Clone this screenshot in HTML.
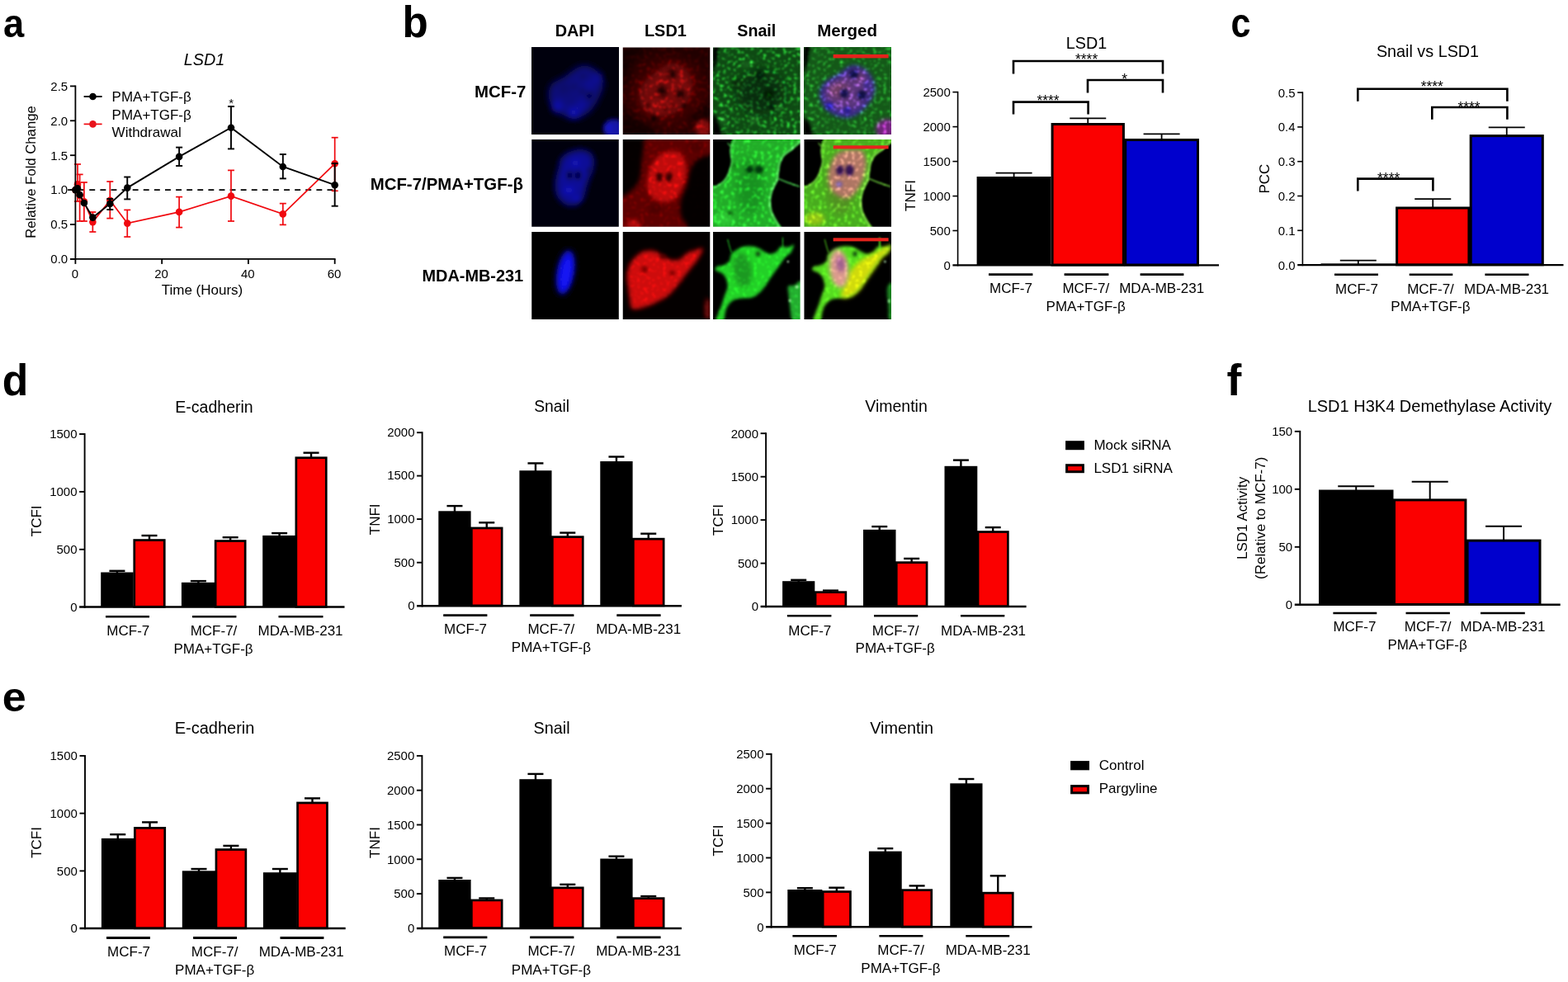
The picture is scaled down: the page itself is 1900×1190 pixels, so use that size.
<!DOCTYPE html>
<html lang="en"><head><meta charset="utf-8"><title>Figure</title>
<style>
html,body{margin:0;padding:0;background:#fff;}
body{width:1900px;height:1190px;overflow:hidden;}
svg{display:block;}
svg text{font-family:"Liberation Sans", sans-serif;fill:#000;}
</style></head>
<body>
<svg width="1900" height="1190" viewBox="0 0 1900 1190">
<rect width="1900" height="1190" fill="#fff"/>
<text transform="translate(3.94 45.2) scale(0.958 1)" font-size="47.3" font-weight="bold">a</text>
<text transform="translate(487.58 45.2) scale(0.963 1)" font-size="53.1" font-weight="bold">b</text>
<text transform="translate(1491.38 44.9) scale(0.878 1)" font-size="49.1" font-weight="bold">c</text>
<text transform="translate(2.83 478.7) scale(0.979 1)" font-size="52.8" font-weight="bold">d</text>
<text transform="translate(2.82 861.7) scale(1.053 1)" font-size="49.5" font-weight="bold">e</text>
<text transform="translate(1486.6 478.6) scale(1.009 1)" font-size="53.0" font-weight="bold">f</text>
<line x1="82.1" y1="230.09999999999997" x2="405.68000000000006" y2="230.09999999999997" stroke="#000" stroke-width="1.7" stroke-dasharray="6.9 6.2"/>
<line x1="94.019" y1="199" x2="94.019" y2="244" stroke="#f0080e" stroke-width="1.7"/>
<line x1="90.019" y1="199" x2="98.019" y2="199" stroke="#f0080e" stroke-width="1.7"/>
<line x1="90.019" y1="244" x2="98.019" y2="244" stroke="#f0080e" stroke-width="1.7"/>
<line x1="96.638" y1="211.4" x2="96.638" y2="268" stroke="#f0080e" stroke-width="1.7"/>
<line x1="92.638" y1="211.4" x2="100.638" y2="211.4" stroke="#f0080e" stroke-width="1.7"/>
<line x1="92.638" y1="268" x2="100.638" y2="268" stroke="#f0080e" stroke-width="1.7"/>
<line x1="101.876" y1="221" x2="101.876" y2="268" stroke="#f0080e" stroke-width="1.7"/>
<line x1="97.876" y1="221" x2="105.876" y2="221" stroke="#f0080e" stroke-width="1.7"/>
<line x1="97.876" y1="268" x2="105.876" y2="268" stroke="#f0080e" stroke-width="1.7"/>
<line x1="112.352" y1="257" x2="112.352" y2="281" stroke="#f0080e" stroke-width="1.7"/>
<line x1="108.352" y1="257" x2="116.352" y2="257" stroke="#f0080e" stroke-width="1.7"/>
<line x1="108.352" y1="281" x2="116.352" y2="281" stroke="#f0080e" stroke-width="1.7"/>
<line x1="133.304" y1="220" x2="133.304" y2="264.6" stroke="#f0080e" stroke-width="1.7"/>
<line x1="129.304" y1="220" x2="137.304" y2="220" stroke="#f0080e" stroke-width="1.7"/>
<line x1="129.304" y1="264.6" x2="137.304" y2="264.6" stroke="#f0080e" stroke-width="1.7"/>
<line x1="154.25600000000003" y1="254.4" x2="154.25600000000003" y2="287" stroke="#f0080e" stroke-width="1.7"/>
<line x1="150.25600000000003" y1="254.4" x2="158.25600000000003" y2="254.4" stroke="#f0080e" stroke-width="1.7"/>
<line x1="150.25600000000003" y1="287" x2="158.25600000000003" y2="287" stroke="#f0080e" stroke-width="1.7"/>
<line x1="217.11200000000002" y1="238.6" x2="217.11200000000002" y2="275.6" stroke="#f0080e" stroke-width="1.7"/>
<line x1="213.11200000000002" y1="238.6" x2="221.11200000000002" y2="238.6" stroke="#f0080e" stroke-width="1.7"/>
<line x1="213.11200000000002" y1="275.6" x2="221.11200000000002" y2="275.6" stroke="#f0080e" stroke-width="1.7"/>
<line x1="279.968" y1="206.4" x2="279.968" y2="268" stroke="#f0080e" stroke-width="1.7"/>
<line x1="275.968" y1="206.4" x2="283.968" y2="206.4" stroke="#f0080e" stroke-width="1.7"/>
<line x1="275.968" y1="268" x2="283.968" y2="268" stroke="#f0080e" stroke-width="1.7"/>
<line x1="342.82400000000007" y1="246.6" x2="342.82400000000007" y2="272.4" stroke="#f0080e" stroke-width="1.7"/>
<line x1="338.82400000000007" y1="246.6" x2="346.82400000000007" y2="246.6" stroke="#f0080e" stroke-width="1.7"/>
<line x1="338.82400000000007" y1="272.4" x2="346.82400000000007" y2="272.4" stroke="#f0080e" stroke-width="1.7"/>
<line x1="405.68000000000006" y1="166.7" x2="405.68000000000006" y2="231.3" stroke="#f0080e" stroke-width="1.7"/>
<line x1="401.68000000000006" y1="166.7" x2="409.68000000000006" y2="166.7" stroke="#f0080e" stroke-width="1.7"/>
<line x1="401.68000000000006" y1="231.3" x2="409.68000000000006" y2="231.3" stroke="#f0080e" stroke-width="1.7"/>
<polyline points="91.4,230.1 94.0,223.4 96.6,236.8 101.9,244.3 112.4,269.1 133.3,242.7 154.3,270.6 217.1,256.9 280.0,237.6 342.8,259.4 405.7,198.3" fill="none" stroke="#f0080e" stroke-width="1.7"/>
<circle cx="91.4" cy="230.1" r="4.3" fill="#f0080e"/>
<circle cx="94.0" cy="223.4" r="4.3" fill="#f0080e"/>
<circle cx="96.6" cy="236.8" r="4.3" fill="#f0080e"/>
<circle cx="101.9" cy="244.3" r="4.3" fill="#f0080e"/>
<circle cx="112.4" cy="269.1" r="4.3" fill="#f0080e"/>
<circle cx="133.3" cy="242.7" r="4.3" fill="#f0080e"/>
<circle cx="154.3" cy="270.6" r="4.3" fill="#f0080e"/>
<circle cx="217.1" cy="256.9" r="4.3" fill="#f0080e"/>
<circle cx="280.0" cy="237.6" r="4.3" fill="#f0080e"/>
<circle cx="342.8" cy="259.4" r="4.3" fill="#f0080e"/>
<circle cx="405.7" cy="198.3" r="4.3" fill="#f0080e"/>
<line x1="133.304" y1="241" x2="133.304" y2="254" stroke="#000" stroke-width="1.9"/>
<line x1="129.304" y1="241" x2="137.304" y2="241" stroke="#000" stroke-width="1.9"/>
<line x1="129.304" y1="254" x2="137.304" y2="254" stroke="#000" stroke-width="1.9"/>
<line x1="154.25600000000003" y1="214.5" x2="154.25600000000003" y2="241.4" stroke="#000" stroke-width="1.9"/>
<line x1="150.25600000000003" y1="214.5" x2="158.25600000000003" y2="214.5" stroke="#000" stroke-width="1.9"/>
<line x1="150.25600000000003" y1="241.4" x2="158.25600000000003" y2="241.4" stroke="#000" stroke-width="1.9"/>
<line x1="217.11200000000002" y1="178.6" x2="217.11200000000002" y2="201" stroke="#000" stroke-width="1.9"/>
<line x1="213.11200000000002" y1="178.6" x2="221.11200000000002" y2="178.6" stroke="#000" stroke-width="1.9"/>
<line x1="213.11200000000002" y1="201" x2="221.11200000000002" y2="201" stroke="#000" stroke-width="1.9"/>
<line x1="279.968" y1="129" x2="279.968" y2="180.4" stroke="#000" stroke-width="1.9"/>
<line x1="275.968" y1="129" x2="283.968" y2="129" stroke="#000" stroke-width="1.9"/>
<line x1="275.968" y1="180.4" x2="283.968" y2="180.4" stroke="#000" stroke-width="1.9"/>
<line x1="342.82400000000007" y1="187" x2="342.82400000000007" y2="216.4" stroke="#000" stroke-width="1.9"/>
<line x1="338.82400000000007" y1="187" x2="346.82400000000007" y2="187" stroke="#000" stroke-width="1.9"/>
<line x1="338.82400000000007" y1="216.4" x2="346.82400000000007" y2="216.4" stroke="#000" stroke-width="1.9"/>
<line x1="405.68000000000006" y1="198" x2="405.68000000000006" y2="249.7" stroke="#000" stroke-width="1.9"/>
<line x1="401.68000000000006" y1="198" x2="409.68000000000006" y2="198" stroke="#000" stroke-width="1.9"/>
<line x1="401.68000000000006" y1="249.7" x2="409.68000000000006" y2="249.7" stroke="#000" stroke-width="1.9"/>
<polyline points="91.4,230.1 94.0,228.4 96.6,236.0 101.9,246.0 112.4,263.6 133.3,246.9 154.3,227.6 217.1,189.9 280.0,154.7 342.8,202.0 405.7,224.2" fill="none" stroke="#000" stroke-width="1.9"/>
<circle cx="91.4" cy="230.1" r="4.3" fill="#000"/>
<circle cx="94.0" cy="228.4" r="4.3" fill="#000"/>
<circle cx="96.6" cy="236.0" r="4.3" fill="#000"/>
<circle cx="101.9" cy="246.0" r="4.3" fill="#000"/>
<circle cx="112.4" cy="263.6" r="4.3" fill="#000"/>
<circle cx="133.3" cy="246.9" r="4.3" fill="#000"/>
<circle cx="154.3" cy="227.6" r="4.3" fill="#000"/>
<circle cx="217.1" cy="189.9" r="4.3" fill="#000"/>
<circle cx="280.0" cy="154.7" r="4.3" fill="#000"/>
<circle cx="342.8" cy="202.0" r="4.3" fill="#000"/>
<circle cx="405.7" cy="224.2" r="4.3" fill="#000"/>
<line x1="91.4" y1="103.49999999999997" x2="91.4" y2="314.79999999999995" stroke="#000" stroke-width="1.8"/>
<line x1="85.0" y1="313.9" x2="406.58000000000004" y2="313.9" stroke="#000" stroke-width="1.8"/>
<line x1="85.0" y1="313.9" x2="91.4" y2="313.9" stroke="#000" stroke-width="1.8"/>
<text x="82.2" y="319.2" font-size="15" text-anchor="end" font-weight="normal" font-style="normal">0.0</text>
<line x1="85.0" y1="272.0" x2="91.4" y2="272.0" stroke="#000" stroke-width="1.8"/>
<text x="82.2" y="277.3" font-size="15" text-anchor="end" font-weight="normal" font-style="normal">0.5</text>
<line x1="85.0" y1="230.09999999999997" x2="91.4" y2="230.09999999999997" stroke="#000" stroke-width="1.8"/>
<text x="82.2" y="235.39999999999998" font-size="15" text-anchor="end" font-weight="normal" font-style="normal">1.0</text>
<line x1="85.0" y1="188.2" x2="91.4" y2="188.2" stroke="#000" stroke-width="1.8"/>
<text x="82.2" y="193.5" font-size="15" text-anchor="end" font-weight="normal" font-style="normal">1.5</text>
<line x1="85.0" y1="146.29999999999998" x2="91.4" y2="146.29999999999998" stroke="#000" stroke-width="1.8"/>
<text x="82.2" y="151.6" font-size="15" text-anchor="end" font-weight="normal" font-style="normal">2.0</text>
<line x1="85.0" y1="104.39999999999998" x2="91.4" y2="104.39999999999998" stroke="#000" stroke-width="1.8"/>
<text x="82.2" y="109.69999999999997" font-size="15" text-anchor="end" font-weight="normal" font-style="normal">2.5</text>
<line x1="91.4" y1="313.9" x2="91.4" y2="319.9" stroke="#000" stroke-width="1.8"/>
<text x="90.80000000000001" y="336.8" font-size="15" text-anchor="middle" font-weight="normal" font-style="normal">0</text>
<line x1="196.16000000000003" y1="313.9" x2="196.16000000000003" y2="319.9" stroke="#000" stroke-width="1.8"/>
<text x="195.56000000000003" y="336.8" font-size="15" text-anchor="middle" font-weight="normal" font-style="normal">20</text>
<line x1="300.92" y1="313.9" x2="300.92" y2="319.9" stroke="#000" stroke-width="1.8"/>
<text x="300.32" y="336.8" font-size="15" text-anchor="middle" font-weight="normal" font-style="normal">40</text>
<line x1="405.68000000000006" y1="313.9" x2="405.68000000000006" y2="319.9" stroke="#000" stroke-width="1.8"/>
<text x="405.08000000000004" y="336.8" font-size="15" text-anchor="middle" font-weight="normal" font-style="normal">60</text>
<text x="245" y="357.2" font-size="17.0" text-anchor="middle" font-weight="normal" font-style="normal">Time (Hours)</text>
<text x="43.0" y="208.5" font-size="16.7" text-anchor="middle" font-weight="normal" font-style="normal" transform="rotate(-90 43.0 208.5)">Relative Fold Change</text>
<text x="247.5" y="79" font-size="19.8" text-anchor="middle" font-weight="normal" font-style="italic">LSD1</text>
<line x1="101.6" y1="117" x2="123.6" y2="117" stroke="#000" stroke-width="1.9"/>
<circle cx="112.5" cy="117" r="4.3" fill="#000"/>
<line x1="101.6" y1="150.4" x2="123.6" y2="150.4" stroke="#f0080e" stroke-width="1.7"/>
<circle cx="112.5" cy="150.4" r="4.3" fill="#e8141c"/>
<text x="135.6" y="123" font-size="17.0" text-anchor="start" font-weight="normal" font-style="normal">PMA+TGF-β</text>
<text x="135.6" y="145.2" font-size="17.0" text-anchor="start" font-weight="normal" font-style="normal">PMA+TGF-β</text>
<text x="135.6" y="166" font-size="17.0" text-anchor="start" font-weight="normal" font-style="normal">Withdrawal</text>
<text x="280.1" y="130.2" font-size="15" text-anchor="middle" font-weight="normal" font-style="normal">*</text>
<text x="696.4" y="43.8" font-size="19.9" text-anchor="middle" font-weight="bold" font-style="normal">DAPI</text>
<text x="806.4" y="43.8" font-size="19.9" text-anchor="middle" font-weight="bold" font-style="normal">LSD1</text>
<text x="916.8" y="43.8" font-size="19.7" text-anchor="middle" font-weight="bold" font-style="normal">Snail</text>
<text x="1026.6" y="43.8" font-size="20.5" text-anchor="middle" font-weight="bold" font-style="normal">Merged</text>
<text x="637.3" y="117.9" font-size="20.4" text-anchor="end" font-weight="bold" font-style="normal">MCF-7</text>
<text x="633.9" y="230.0" font-size="20.4" text-anchor="end" font-weight="bold" font-style="normal">MCF-7/PMA+TGF-β</text>
<text x="634.2" y="340.8" font-size="19.9" text-anchor="end" font-weight="bold" font-style="normal">MDA-MB-231</text>
<defs>
<filter id="b4" x="-50%" y="-50%" width="200%" height="200%"><feGaussianBlur stdDeviation="4"/></filter>
<filter id="b8" x="-50%" y="-50%" width="200%" height="200%"><feGaussianBlur stdDeviation="8"/></filter>
<filter id="b12" x="-50%" y="-50%" width="200%" height="200%"><feGaussianBlur stdDeviation="12"/></filter>
<filter id="b20" x="-50%" y="-50%" width="200%" height="200%"><feGaussianBlur stdDeviation="20"/></filter>
<filter id="b30" x="-50%" y="-50%" width="200%" height="200%"><feGaussianBlur stdDeviation="30"/></filter>
<filter id="b45" x="-50%" y="-50%" width="200%" height="200%"><feGaussianBlur stdDeviation="45"/></filter>
<filter id="b70" x="-50%" y="-50%" width="200%" height="200%"><feGaussianBlur stdDeviation="70"/></filter>
<filter id="nR1" x="0" y="0" width="100%" height="100%" color-interpolation-filters="sRGB"><feTurbulence type="fractalNoise" baseFrequency="0.018" numOctaves="2" seed="5" result="n"/><feColorMatrix in="n" type="matrix" values="3.5 0 0 0 -1.8  3.5 0 0 0 -1.8  3.5 0 0 0 -1.8  0 0 0 0 1" result="g"/><feComposite in="SourceGraphic" in2="g" operator="arithmetic" k1="0.8" k2="0.78" k3="0" k4="0" result="c"/><feGaussianBlur in="c" stdDeviation="10"/></filter>
<filter id="nG1" x="0" y="0" width="100%" height="100%" color-interpolation-filters="sRGB"><feTurbulence type="fractalNoise" baseFrequency="0.022" numOctaves="2" seed="11" result="n"/><feColorMatrix in="n" type="matrix" values="4.0 0 0 0 -2.2  4.0 0 0 0 -2.2  4.0 0 0 0 -2.2  0 0 0 0 1" result="g"/><feComposite in="SourceGraphic" in2="g" operator="arithmetic" k1="1.7" k2="0.6" k3="0" k4="0" result="c"/><feGaussianBlur in="c" stdDeviation="10"/></filter>
<filter id="nM1" x="0" y="0" width="100%" height="100%" color-interpolation-filters="sRGB"><feTurbulence type="fractalNoise" baseFrequency="0.022" numOctaves="2" seed="11" result="n"/><feColorMatrix in="n" type="matrix" values="4.0 0 0 0 -2.2  4.0 0 0 0 -2.2  4.0 0 0 0 -2.2  0 0 0 0 1" result="g"/><feComposite in="SourceGraphic" in2="g" operator="arithmetic" k1="1.2" k2="0.72" k3="0" k4="0" result="c"/><feGaussianBlur in="c" stdDeviation="10"/></filter>
<filter id="nR2" x="0" y="0" width="100%" height="100%" color-interpolation-filters="sRGB"><feTurbulence type="fractalNoise" baseFrequency="0.02" numOctaves="2" seed="8" result="n"/><feColorMatrix in="n" type="matrix" values="3.5 0 0 0 -1.9  3.5 0 0 0 -1.9  3.5 0 0 0 -1.9  0 0 0 0 1" result="g"/><feComposite in="SourceGraphic" in2="g" operator="arithmetic" k1="0.5" k2="0.86" k3="0" k4="0" result="c"/><feGaussianBlur in="c" stdDeviation="10"/></filter>
<filter id="nG2" x="0" y="0" width="100%" height="100%" color-interpolation-filters="sRGB"><feTurbulence type="fractalNoise" baseFrequency="0.02" numOctaves="2" seed="17" result="n"/><feColorMatrix in="n" type="matrix" values="3.5 0 0 0 -1.9  3.5 0 0 0 -1.9  3.5 0 0 0 -1.9  0 0 0 0 1" result="g"/><feComposite in="SourceGraphic" in2="g" operator="arithmetic" k1="0.7" k2="0.8" k3="0" k4="0" result="c"/><feGaussianBlur in="c" stdDeviation="10"/></filter>
<filter id="nS" x="0" y="0" width="100%" height="100%" color-interpolation-filters="sRGB"><feTurbulence type="fractalNoise" baseFrequency="0.02" numOctaves="2" seed="29" result="n"/><feColorMatrix in="n" type="matrix" values="3.5 0 0 0 -1.9  3.5 0 0 0 -1.9  3.5 0 0 0 -1.9  0 0 0 0 1" result="g"/><feComposite in="SourceGraphic" in2="g" operator="arithmetic" k1="0.3" k2="0.93" k3="0" k4="0" result="c"/><feGaussianBlur in="c" stdDeviation="10"/></filter>
<filter id="nB" x="0" y="0" width="100%" height="100%"><feGaussianBlur stdDeviation="10"/></filter>
</defs>
<svg x="644.25" y="57.5" width="105.55" height="105.45" viewBox="2.8 5.6 1184.9 1183.8" preserveAspectRatio="none"><g filter="url(#nB)"><rect x="-50" y="-50" width="1300" height="1300" fill="#02000c"/><path d="M750 250 C785 256 828 277 860 300 C892 323 920 355 940 390 C960 425 980 468 980 510 C980 552 957 598 940 640 C923 682 903 722 880 760 C857 798 830 840 800 870 C770 900 733 923 700 940 C667 957 637 968 600 970 C563 972 517 962 480 950 C443 938 412 922 380 900 C348 878 313 850 290 820 C267 790 250 753 240 720 C230 687 227 652 230 620 C233 588 245 555 260 530 C275 505 290 490 320 470 C350 450 400 435 440 410 C480 385 525 344 560 320 C595 296 618 277 650 265 C682 253 715 244 750 250 Z" fill="#0b0b7c" filter="url(#b45)"/><ellipse cx="350" cy="810" rx="70" ry="75" fill="#1818d0" filter="url(#b45)" opacity="0.75"/><ellipse cx="575" cy="890" rx="80" ry="75" fill="#1818d0" filter="url(#b45)" opacity="0.75"/><ellipse cx="680" cy="790" rx="55" ry="70" fill="#1616c0" filter="url(#b45)" opacity="0.6"/><ellipse cx="900" cy="420" rx="55" ry="70" fill="#1515b8" filter="url(#b45)" opacity="0.7"/><ellipse cx="790" cy="510" rx="60" ry="45" fill="#1515b8" filter="url(#b45)" opacity="0.6"/><ellipse cx="440" cy="560" rx="90" ry="70" fill="#07075a" filter="url(#b45)" opacity="0.6"/><ellipse cx="790" cy="665" rx="44" ry="44" fill="#04043c" filter="url(#b30)" opacity="0.8"/><ellipse cx="690" cy="600" rx="30" ry="30" fill="#050548" filter="url(#b30)" opacity="0.6"/><ellipse cx="580" cy="540" rx="32" ry="32" fill="#060658" filter="url(#b30)" opacity="0.6"/><ellipse cx="700" cy="400" rx="34" ry="34" fill="#060658" filter="url(#b30)" opacity="0.6"/><ellipse cx="1120" cy="1110" rx="140" ry="130" fill="#1212a8" filter="url(#b30)"/><ellipse cx="1050" cy="1100" rx="50" ry="60" fill="#1818d0" filter="url(#b30)" opacity="0.7"/></g></svg>
<svg x="754.75" y="57.5" width="105.55" height="105.45" viewBox="8.4 5.6 1184.9 1183.8" preserveAspectRatio="none"><g filter="url(#nR1)"><rect x="-50" y="-50" width="1300" height="1300" fill="#2a0000"/><ellipse cx="620" cy="640" rx="560" ry="520" fill="#450303" filter="url(#b70)"/><path d="M650 225 C703 212 748 231 790 250 C832 269 872 298 900 340 C928 382 950 448 955 500 C960 552 946 603 930 650 C914 697 892 742 860 780 C828 818 790 852 740 880 C690 908 617 939 560 945 C503 951 447 934 400 915 C353 896 308 866 280 830 C252 794 240 745 235 700 C230 655 234 603 250 560 C266 517 293 478 330 440 C367 402 417 366 470 330 C523 294 597 238 650 225 Z" fill="#900a0a" filter="url(#b45)"/><ellipse cx="520" cy="800" rx="150" ry="110" fill="#a80e0e" filter="url(#b45)" opacity="0.6"/><ellipse cx="760" cy="470" rx="120" ry="120" fill="#9c0c0c" filter="url(#b45)" opacity="0.5"/><ellipse cx="680" cy="365" rx="60" ry="58" fill="#1c0000" filter="url(#b30)"/><ellipse cx="540" cy="600" rx="58" ry="76" fill="#1c0000" filter="url(#b30)" transform="rotate(-20 540 600)"/><ellipse cx="792" cy="645" rx="62" ry="58" fill="#1c0000" filter="url(#b30)"/><ellipse cx="350" cy="790" rx="26" ry="26" fill="#4a0000" filter="url(#b20)"/><ellipse cx="590" cy="845" rx="26" ry="26" fill="#4a0000" filter="url(#b20)"/><ellipse cx="690" cy="800" rx="22" ry="22" fill="#500000" filter="url(#b20)"/><ellipse cx="440" cy="975" rx="55" ry="40" fill="#140000" filter="url(#b20)"/><ellipse cx="850" cy="800" rx="40" ry="40" fill="#300000" filter="url(#b20)"/><path d="M900 1000 C868 983 952 940 1000 900 C1048 860 1158 743 1190 760 C1222 777 1238 960 1190 1000 C1142 1040 932 1017 900 1000 Z" fill="#1c0000" filter="url(#b30)"/><ellipse cx="1100" cy="1100" rx="110" ry="120" fill="#a40c0c" filter="url(#b30)"/><path d="M0 0 C50 -83 280 -25 300 0 C320 25 160 83 120 150 C80 217 80 342 60 400 C40 458 10 567 0 500 C-10 433 -50 83 0 0 Z" fill="#120000" filter="url(#b45)"/><path d="M0 900 C33 868 117 952 200 1000 C283 1048 533 1158 500 1190 C467 1222 83 1238 0 1190 C-83 1142 -33 932 0 900 Z" fill="#160000" filter="url(#b45)"/></g></svg>
<svg x="864.05" y="57.5" width="105.55" height="105.45" viewBox="0.6 5.6 1184.9 1183.8" preserveAspectRatio="none"><g filter="url(#nG1)"><rect x="-50" y="-50" width="1300" height="1300" fill="#187a20"/><ellipse cx="650" cy="620" rx="330" ry="300" fill="#0d4a12" filter="url(#b70)"/><ellipse cx="640" cy="380" rx="60" ry="60" fill="#062c08" filter="url(#b30)"/><ellipse cx="760" cy="640" rx="70" ry="60" fill="#052606" filter="url(#b30)"/><ellipse cx="800" cy="810" rx="40" ry="40" fill="#062c08" filter="url(#b20)"/><ellipse cx="320" cy="500" rx="60" ry="60" fill="#0a3a0c" filter="url(#b30)"/><ellipse cx="450" cy="240" rx="80" ry="40" fill="#2fae38" filter="url(#b30)" opacity="0.8"/><ellipse cx="560" cy="990" rx="70" ry="40" fill="#38c040" filter="url(#b30)" opacity="0.8"/><ellipse cx="140" cy="1000" rx="50" ry="40" fill="#38c040" filter="url(#b30)" opacity="0.8"/><ellipse cx="900" cy="830" rx="40" ry="40" fill="#38c040" filter="url(#b20)" opacity="0.8"/><path d="M0 0 C12 -55 60 -20 70 0 C80 20 66 77 60 120 C54 163 45 225 35 260 C25 295 6 373 0 330 C-6 287 -12 55 0 0 Z" fill="#000" filter="url(#b20)"/><path d="M0 930 C7 892 27 938 40 960 C53 982 68 1022 80 1060 C92 1098 123 1168 110 1190 C97 1212 18 1233 0 1190 C-18 1147 -7 968 0 930 Z" fill="#000" filter="url(#b20)"/></g></svg>
<svg x="974.45" y="57.5" width="105.55" height="105.45" viewBox="5.1 5.6 1184.9 1183.8" preserveAspectRatio="none"><g filter="url(#nM1)"><rect x="-50" y="-50" width="1300" height="1300" fill="#1c7a22"/><path d="M680 250 C717 250 763 268 800 290 C837 312 873 340 900 380 C927 420 953 485 960 530 C967 575 952 615 940 650 C928 685 918 702 890 740 C862 778 812 845 770 880 C728 915 682 938 640 950 C598 962 563 963 520 955 C477 947 422 926 380 900 C338 874 297 843 270 800 C243 757 223 685 220 640 C217 595 232 562 250 530 C268 498 292 477 330 450 C368 423 438 397 480 370 C522 343 547 310 580 290 C613 270 643 250 680 250 Z" fill="#3a30c0" filter="url(#b30)"/><path d="M660 300 C712 285 753 310 790 330 C827 350 858 385 880 420 C902 455 920 495 920 540 C920 585 907 642 880 690 C853 738 807 795 760 830 C713 865 657 895 600 900 C543 905 470 883 420 860 C370 837 325 797 300 760 C275 723 265 680 270 640 C275 600 295 557 330 520 C365 483 425 457 480 420 C535 383 608 315 660 300 Z" fill="#7c48a8" filter="url(#b45)"/><ellipse cx="470" cy="580" rx="150" ry="110" fill="#b06078" filter="url(#b45)" opacity="0.6"/><ellipse cx="760" cy="400" rx="80" ry="60" fill="#a85888" filter="url(#b45)" opacity="0.6"/><ellipse cx="680" cy="370" rx="66" ry="64" fill="#16125c" filter="url(#b20)"/><ellipse cx="550" cy="630" rx="62" ry="66" fill="#1c1460" filter="url(#b20)"/><ellipse cx="792" cy="652" rx="68" ry="66" fill="#16125c" filter="url(#b20)"/><ellipse cx="350" cy="800" rx="50" ry="50" fill="#3028cc" filter="url(#b20)"/><ellipse cx="590" cy="860" rx="55" ry="45" fill="#3a2cc8" filter="url(#b20)"/><ellipse cx="850" cy="520" rx="40" ry="60" fill="#4a38c8" filter="url(#b20)" opacity="0.7"/><ellipse cx="1130" cy="1120" rx="150" ry="140" fill="#9a32a8" filter="url(#b30)"/><path d="M0 0 C13 -55 69 -20 80 0 C91 20 72 77 65 120 C58 163 51 225 40 260 C29 295 7 373 0 330 C-7 287 -13 55 0 0 Z" fill="#000" filter="url(#b20)"/><path d="M0 980 C8 948 35 983 50 1000 C65 1017 80 1048 90 1080 C100 1112 125 1172 110 1190 C95 1208 18 1225 0 1190 C-18 1155 -8 1012 0 980 Z" fill="#000" filter="url(#b20)"/></g><rect x="400" y="100" width="752" height="50" fill="#e6241e" filter="url(#b4)"/></svg>
<svg x="644.25" y="169.05" width="105.55" height="105.75" viewBox="2.8 0.6 1184.9 1187.2" preserveAspectRatio="none"><g filter="url(#nB)"><rect x="-50" y="-50" width="1300" height="1300" fill="#010008"/><path d="M400 260 C418 227 450 208 480 190 C510 172 543 158 580 150 C617 142 663 135 700 140 C737 145 775 158 800 180 C825 202 843 233 850 270 C857 307 850 358 840 400 C830 442 805 480 790 520 C775 560 763 595 750 640 C737 685 728 750 710 790 C692 830 668 862 640 880 C612 898 573 902 540 900 C507 898 472 892 440 870 C408 848 369 808 350 770 C331 732 328 682 325 640 C322 598 328 562 335 520 C342 478 359 433 370 390 C381 347 382 293 400 260 Z" fill="#101098" filter="url(#b45)"/><ellipse cx="510" cy="690" rx="70" ry="50" fill="#1818c4" filter="url(#b30)" opacity="0.7"/><ellipse cx="600" cy="320" rx="60" ry="50" fill="#1616bc" filter="url(#b30)" opacity="0.7"/><ellipse cx="620" cy="800" rx="60" ry="40" fill="#1616bc" filter="url(#b30)" opacity="0.6"/><ellipse cx="520" cy="490" rx="38" ry="54" fill="#030330" filter="url(#b30)" opacity="0.9"/><ellipse cx="632" cy="490" rx="42" ry="58" fill="#030330" filter="url(#b30)" opacity="0.9"/><ellipse cx="790" cy="420" rx="34" ry="34" fill="#06064a" filter="url(#b30)" opacity="0.7"/></g></svg>
<svg x="754.75" y="169.05" width="105.55" height="105.75" viewBox="8.4 0.6 1184.9 1187.2" preserveAspectRatio="none"><g filter="url(#nR2)"><rect x="-50" y="-50" width="1300" height="1300" fill="#050000"/><path d="M330 -30 C398 -55 552 -30 700 -30 C848 -30 1133 -65 1220 -30 C1307 5 1247 133 1220 180 C1193 227 1103 223 1060 250 C1017 277 985 303 960 340 C935 377 923 423 910 470 C897 517 895 572 880 620 C865 668 835 713 820 760 C805 807 793 853 790 900 C787 947 787 987 800 1040 C813 1093 937 1190 870 1220 C803 1250 550 1220 400 1220 C250 1220 42 1287 -30 1220 C-102 1153 -45 898 -30 820 C-15 742 23 782 60 750 C97 718 158 675 190 630 C222 585 238 535 250 480 C262 425 258 360 265 300 C272 240 279 175 290 120 C301 65 262 -5 330 -30 Z" fill="#6c0505" filter="url(#b30)"/><path d="M430 300 C452 267 472 242 500 220 C528 198 567 180 600 170 C633 160 668 157 700 160 C732 163 763 165 790 190 C817 215 847 265 860 310 C873 355 873 412 870 460 C867 508 855 557 840 600 C825 643 803 683 780 720 C757 757 730 798 700 820 C670 842 633 847 600 850 C567 853 533 852 500 840 C467 828 426 807 400 780 C374 753 355 717 345 680 C335 643 336 603 340 560 C344 517 355 463 370 420 C385 377 408 333 430 300 Z" fill="#dc1010" filter="url(#b30)"/><ellipse cx="505" cy="510" rx="46" ry="62" fill="#3c0000" filter="url(#b20)"/><ellipse cx="637" cy="510" rx="46" ry="66" fill="#3c0000" filter="url(#b20)"/><ellipse cx="150" cy="1150" rx="90" ry="60" fill="#d00c0c" filter="url(#b30)"/><ellipse cx="1000" cy="100" rx="110" ry="70" fill="#5a0404" filter="url(#b30)"/><ellipse cx="450" cy="950" rx="100" ry="60" fill="#500303" filter="url(#b30)" opacity="0.7"/></g></svg>
<svg x="864.05" y="169.05" width="105.55" height="105.75" viewBox="0.6 0.6 1184.9 1187.2" preserveAspectRatio="none"><g filter="url(#nG2)"><rect x="-50" y="-50" width="1300" height="1300" fill="#000"/><path d="M300 -30 C377 -58 547 -30 700 -30 C853 -30 1133 -40 1220 -30 C1307 -20 1245 3 1220 30 C1195 57 1113 99 1070 130 C1027 161 988 183 960 215 C932 247 918 282 905 320 C892 358 892 400 885 440 C878 480 878 520 865 560 C852 600 820 635 805 680 C790 725 774 780 772 830 C770 880 777 935 790 980 C803 1025 830 1060 850 1100 C870 1140 985 1200 910 1220 C835 1240 557 1220 400 1220 C243 1220 42 1310 -30 1220 C-102 1130 -45 778 -30 680 C-15 582 30 649 60 630 C90 611 124 595 150 565 C176 535 198 494 215 450 C232 406 251 352 255 300 C259 248 230 195 238 140 C246 85 223 -2 300 -30 Z" fill="#2ad632" filter="url(#b8)"/><ellipse cx="500" cy="640" rx="190" ry="380" fill="#1fae27" filter="url(#b45)" opacity="0.8"/><ellipse cx="150" cy="1080" rx="130" ry="90" fill="#3af842" filter="url(#b30)"/><path d="M1190 25 C1170 42 1108 98 1070 130 C1032 162 988 183 960 215 C932 247 918 282 905 320 C892 358 892 400 885 440 C878 480 878 520 865 560 C852 600 820 635 805 680 C790 725 774 780 772 830 C770 880 777 935 790 980 C803 1025 831 1065 850 1100 C869 1135 896 1175 905 1190" fill="none" stroke="#5cff64" stroke-width="34" stroke-linecap="round" filter="url(#b8)"/><path d="M300 0 C290 23 246 90 238 140 C230 190 259 248 255 300 C251 352 232 406 215 450 C198 494 176 535 150 565 C124 595 85 612 60 630 C35 648 10 663 0 670" fill="none" stroke="#5cff64" stroke-width="24" stroke-linecap="round" filter="url(#b8)" opacity="0.9"/><path d="M880 530 C900 538 952 562 1000 580 C1048 598 1142 630 1170 640" fill="none" stroke="#5cff64" stroke-width="20" stroke-linecap="round" filter="url(#b8)" opacity="0.85"/><path d="M200 50 C208 61 242 104 250 115" fill="none" stroke="#5cff64" stroke-width="14" stroke-linecap="round" filter="url(#b8)" opacity="0.8"/><ellipse cx="500" cy="410" rx="52" ry="52" fill="#063c08" filter="url(#b20)"/><ellipse cx="627" cy="410" rx="56" ry="56" fill="#063c08" filter="url(#b20)"/><ellipse cx="300" cy="370" rx="30" ry="30" fill="#0c6a10" filter="url(#b20)"/><ellipse cx="230" cy="1010" rx="36" ry="30" fill="#0c6a10" filter="url(#b20)"/></g></svg>
<svg x="974.45" y="169.05" width="105.55" height="105.75" viewBox="5.1 0.6 1184.9 1187.2" preserveAspectRatio="none"><g filter="url(#nG2)"><rect x="-50" y="-50" width="1300" height="1300" fill="#000"/><path d="M300 -30 C377 -58 547 -30 700 -30 C853 -30 1133 -40 1220 -30 C1307 -20 1245 3 1220 30 C1195 57 1113 99 1070 130 C1027 161 988 183 960 215 C932 247 918 282 905 320 C892 358 892 400 885 440 C878 480 878 520 865 560 C852 600 820 635 805 680 C790 725 774 780 772 830 C770 880 777 935 790 980 C803 1025 830 1060 850 1100 C870 1140 985 1200 910 1220 C835 1240 557 1220 400 1220 C243 1220 42 1310 -30 1220 C-102 1130 -45 778 -30 680 C-15 582 30 649 60 630 C90 611 124 595 150 565 C176 535 198 494 215 450 C232 406 251 352 255 300 C259 248 230 195 238 140 C246 85 223 -2 300 -30 Z" fill="#5ad626" filter="url(#b8)"/><ellipse cx="500" cy="640" rx="190" ry="380" fill="#66aa2a" filter="url(#b45)" opacity="0.8"/><ellipse cx="150" cy="1080" rx="130" ry="90" fill="#b4f41c" filter="url(#b30)"/><path d="M1190 25 C1170 42 1108 98 1070 130 C1032 162 988 183 960 215 C932 247 918 282 905 320 C892 358 892 400 885 440 C878 480 878 520 865 560 C852 600 820 635 805 680 C790 725 774 780 772 830 C770 880 777 935 790 980 C803 1025 831 1065 850 1100 C869 1135 896 1175 905 1190" fill="none" stroke="#88ff48" stroke-width="34" stroke-linecap="round" filter="url(#b8)"/><path d="M300 0 C290 23 246 90 238 140 C230 190 259 248 255 300 C251 352 232 406 215 450 C198 494 176 535 150 565 C124 595 85 612 60 630 C35 648 10 663 0 670" fill="none" stroke="#88ff48" stroke-width="24" stroke-linecap="round" filter="url(#b8)" opacity="0.9"/><path d="M880 530 C900 538 952 562 1000 580 C1048 598 1142 630 1170 640" fill="none" stroke="#88ff48" stroke-width="20" stroke-linecap="round" filter="url(#b8)" opacity="0.85"/><path d="M200 50 C208 61 242 104 250 115" fill="none" stroke="#88ff48" stroke-width="14" stroke-linecap="round" filter="url(#b8)" opacity="0.8"/><path d="M430 210 C458 173 488 172 520 160 C552 148 583 143 620 140 C657 137 708 135 740 140 C772 145 792 143 810 170 C828 197 846 255 850 300 C854 345 843 397 835 440 C827 483 815 522 800 560 C785 598 772 633 745 670 C718 707 674 758 640 780 C606 802 573 805 540 800 C507 795 470 773 440 750 C410 727 378 698 360 660 C342 622 332 567 330 520 C328 473 333 432 350 380 C367 328 402 247 430 210 Z" fill="#d8927c" filter="url(#b30)"/><ellipse cx="492" cy="420" rx="52" ry="68" fill="#3a1260" filter="url(#b20)"/><ellipse cx="622" cy="420" rx="58" ry="78" fill="#3a1260" filter="url(#b20)"/><ellipse cx="480" cy="610" rx="45" ry="40" fill="#9878c8" filter="url(#b20)"/></g><rect x="400" y="82" width="752" height="46" fill="#e6241e" filter="url(#b4)"/></svg>
<svg x="644.25" y="281.05" width="105.55" height="105.9" viewBox="2.8 0.6 1184.9 1188.9" preserveAspectRatio="none"><g filter="url(#nB)"><rect x="-50" y="-50" width="1300" height="1300" fill="#000006"/><ellipse cx="462" cy="550" rx="118" ry="300" fill="#0c0ccc" filter="url(#b30)" transform="rotate(10 462 550)"/><ellipse cx="470" cy="560" rx="70" ry="220" fill="#1212f4" filter="url(#b30)" transform="rotate(10 470 560)"/></g></svg>
<svg x="754.75" y="281.05" width="105.55" height="105.9" viewBox="8.4 0.6 1184.9 1188.9" preserveAspectRatio="none"><g filter="url(#nS)"><rect x="-50" y="-50" width="1300" height="1300" fill="#040000"/><path d="M170 350 C202 320 248 283 290 268 C332 253 383 253 420 258 C457 263 482 285 510 300 C538 315 560 336 590 350 C620 364 657 382 690 385 C723 388 758 386 790 370 C822 354 847 310 880 290 C913 270 954 260 990 250 C1026 240 1088 208 1095 228 C1102 248 1059 323 1030 370 C1001 417 957 463 920 510 C883 557 845 605 810 650 C775 695 745 741 710 780 C675 819 643 854 600 885 C557 916 503 941 450 965 C397 989 332 1017 280 1030 C228 1043 165 1067 135 1045 C105 1023 109 949 100 900 C91 851 86 800 80 750 C74 700 59 650 62 600 C65 550 82 492 100 450 C118 408 138 380 170 350 Z" fill="#dc1010" filter="url(#b30)"/><ellipse cx="300" cy="510" rx="45" ry="45" fill="#8a0404" filter="url(#b20)"/><ellipse cx="555" cy="335" rx="45" ry="30" fill="#5a0000" filter="url(#b20)"/><ellipse cx="680" cy="560" rx="40" ry="34" fill="#900606" filter="url(#b20)"/><ellipse cx="1160" cy="1050" rx="40" ry="150" fill="#800808" filter="url(#b30)"/></g></svg>
<svg x="864.05" y="281.05" width="105.55" height="105.9" viewBox="0.6 0.6 1184.9 1188.9" preserveAspectRatio="none"><g filter="url(#nS)"><rect x="-50" y="-50" width="1300" height="1300" fill="#000"/><path d="M260 290 C286 269 350 220 400 205 C450 190 513 191 560 200 C607 209 645 241 680 258 C715 275 740 298 770 300 C800 302 834 289 860 272 C886 255 902 210 925 200 C948 190 978 211 1000 210 C1022 209 1043 201 1060 195 C1077 189 1100 158 1100 172 C1100 186 1080 251 1060 280 C1040 309 1007 315 980 345 C953 375 930 418 900 460 C870 502 830 557 800 600 C770 643 747 683 720 720 C693 757 670 792 640 820 C610 848 580 876 540 890 C500 904 443 899 400 905 C357 911 313 908 280 925 C247 942 219 976 200 1005 C181 1034 175 1064 165 1100 C155 1136 161 1200 140 1220 C119 1240 51 1240 40 1220 C29 1200 62 1137 75 1100 C88 1063 101 1040 115 1000 C129 960 146 903 160 860 C174 817 196 779 198 740 C200 701 185 655 172 625 C159 595 143 580 120 562 C97 544 43 535 32 520 C21 505 35 483 55 472 C75 461 122 464 150 452 C178 440 205 422 220 402 C235 382 235 349 242 330 C249 311 234 311 260 290 Z" fill="#26e02c" filter="url(#b20)"/><path d="M945 85 C946 106 948 189 948 210" fill="none" stroke="#26e02c" stroke-width="24" stroke-linecap="round" filter="url(#b8)"/><path d="M200 105 C204 119 214 162 222 190 C230 218 244 261 248 275" fill="none" stroke="#26e02c" stroke-width="14" stroke-linecap="round" filter="url(#b8)" opacity="0.8"/><ellipse cx="612" cy="300" rx="30" ry="32" fill="#08400a" filter="url(#b20)"/><ellipse cx="1020" cy="405" rx="13" ry="15" fill="#c8ffc8" filter="url(#b8)"/><ellipse cx="400" cy="520" rx="125" ry="235" fill="#1a9a20" filter="url(#b30)" transform="rotate(-8 400 520)" opacity="0.85"/><path d="M1020 745 C1031 717 1067 738 1100 730 C1133 722 1200 618 1220 700 C1240 782 1242 1133 1220 1220 C1198 1307 1113 1248 1085 1220 C1057 1192 1058 1103 1050 1050 C1042 997 1040 951 1035 900 C1030 849 1009 773 1020 745 Z" fill="#28b830" filter="url(#b20)"/><ellipse cx="1140" cy="750" rx="22" ry="22" fill="#a0ffa0" filter="url(#b8)"/><ellipse cx="1045" cy="935" rx="16" ry="22" fill="#a0ffa0" filter="url(#b8)"/></g></svg>
<svg x="974.45" y="281.05" width="105.55" height="105.9" viewBox="5.1 0.6 1184.9 1188.9" preserveAspectRatio="none"><g filter="url(#nS)"><rect x="-50" y="-50" width="1300" height="1300" fill="#000"/><path d="M345 290 C371 269 435 220 485 205 C535 190 598 191 645 200 C692 209 730 241 765 258 C800 275 825 298 855 300 C885 302 919 289 945 272 C971 255 987 210 1010 200 C1033 190 1062 211 1085 210 C1108 209 1128 201 1145 195 C1162 189 1185 158 1185 172 C1185 186 1165 251 1145 280 C1125 309 1092 315 1065 345 C1038 375 1015 418 985 460 C955 502 915 557 885 600 C855 643 832 683 805 720 C778 757 755 792 725 820 C695 848 665 876 625 890 C585 904 528 899 485 905 C442 911 398 908 365 925 C332 942 304 976 285 1005 C266 1034 260 1064 250 1100 C240 1136 246 1200 225 1220 C204 1240 136 1240 125 1220 C114 1200 148 1137 160 1100 C172 1063 186 1040 200 1000 C214 960 231 903 245 860 C259 817 281 779 283 740 C285 701 270 655 257 625 C244 595 228 580 205 562 C182 544 128 535 117 520 C106 505 120 483 140 472 C160 461 208 464 235 452 C262 440 290 422 305 402 C320 382 320 349 327 330 C334 311 319 311 345 290 Z" fill="#5cec20" filter="url(#b20)"/><path d="M645 520 C682 467 735 417 785 380 C835 343 895 327 945 300 C995 273 1045 238 1085 220 C1125 202 1175 180 1185 190 C1195 200 1165 254 1145 280 C1125 306 1092 315 1065 345 C1038 375 1015 418 985 460 C955 502 915 557 885 600 C855 643 832 683 805 720 C778 757 755 793 725 820 C695 847 662 870 625 880 C588 890 515 910 505 880 C495 850 542 760 565 700 C588 640 608 573 645 520 Z" fill="#e0ea08" filter="url(#b30)"/><path d="M1030 85 C1030 106 1032 189 1033 210" fill="none" stroke="#5cec20" stroke-width="24" stroke-linecap="round" filter="url(#b8)"/><path d="M285 105 C289 119 299 162 307 190 C315 218 329 261 333 275" fill="none" stroke="#5cec20" stroke-width="14" stroke-linecap="round" filter="url(#b8)" opacity="0.8"/><ellipse cx="697" cy="300" rx="30" ry="32" fill="#08400a" filter="url(#b20)"/><ellipse cx="1105" cy="405" rx="13" ry="15" fill="#c8ffc8" filter="url(#b8)"/><ellipse cx="478" cy="500" rx="128" ry="262" fill="#eca898" filter="url(#b30)" transform="rotate(-6 478 500)"/><ellipse cx="500" cy="440" rx="60" ry="110" fill="#a86498" filter="url(#b30)" transform="rotate(-6 500 440)"/><path d="M1135 760 C1147 713 1206 643 1220 720 C1234 797 1230 1137 1220 1220 C1210 1303 1172 1257 1160 1220 C1148 1183 1154 1077 1150 1000 C1146 923 1123 807 1135 760 Z" fill="#1c8c22" filter="url(#b20)"/><ellipse cx="1158" cy="940" rx="16" ry="28" fill="#90f090" filter="url(#b8)"/></g><rect x="400" y="82" width="752" height="46" fill="#e6241e" filter="url(#b4)"/></svg>
<line x1="1228.6" y1="209.6" x2="1228.6" y2="215" stroke="#000" stroke-width="1.8"/>
<line x1="1206.6" y1="209.6" x2="1250.6" y2="209.6" stroke="#000" stroke-width="1.8"/>
<rect x="1183.60" y="214.00" width="90.00" height="107.30" fill="#000"/>
<line x1="1318.25" y1="143.4" x2="1318.25" y2="150" stroke="#000" stroke-width="1.8"/>
<line x1="1296.25" y1="143.4" x2="1340.25" y2="143.4" stroke="#000" stroke-width="1.8"/>
<rect x="1275.10" y="150.50" width="86.30" height="170.50" fill="#fb0000" stroke="#000" stroke-width="3"/>
<line x1="1407.6" y1="162.4" x2="1407.6" y2="169" stroke="#000" stroke-width="1.8"/>
<line x1="1385.6" y1="162.4" x2="1429.6" y2="162.4" stroke="#000" stroke-width="1.8"/>
<rect x="1363.70" y="169.50" width="87.80" height="151.50" fill="#0000cd" stroke="#000" stroke-width="3"/>
<line x1="1160.6" y1="110.8" x2="1160.6" y2="322.45" stroke="#000" stroke-width="1.6"/>
<line x1="1154.3999999999999" y1="321.3" x2="1477" y2="321.3" stroke="#000" stroke-width="2.3"/>
<line x1="1154.3999999999999" y1="111.6" x2="1160.6" y2="111.6" stroke="#000" stroke-width="1.6"/>
<text x="1151.8" y="117.0" font-size="15" text-anchor="end" font-weight="normal" font-style="normal">2500</text>
<line x1="1154.3999999999999" y1="153.6" x2="1160.6" y2="153.6" stroke="#000" stroke-width="1.6"/>
<text x="1151.8" y="159.0" font-size="15" text-anchor="end" font-weight="normal" font-style="normal">2000</text>
<line x1="1154.3999999999999" y1="195.6" x2="1160.6" y2="195.6" stroke="#000" stroke-width="1.6"/>
<text x="1151.8" y="201.0" font-size="15" text-anchor="end" font-weight="normal" font-style="normal">1500</text>
<line x1="1154.3999999999999" y1="237.6" x2="1160.6" y2="237.6" stroke="#000" stroke-width="1.6"/>
<text x="1151.8" y="243.0" font-size="15" text-anchor="end" font-weight="normal" font-style="normal">1000</text>
<line x1="1154.3999999999999" y1="279.5" x2="1160.6" y2="279.5" stroke="#000" stroke-width="1.6"/>
<text x="1151.8" y="284.9" font-size="15" text-anchor="end" font-weight="normal" font-style="normal">500</text>
<text x="1151.8" y="326.7" font-size="15" text-anchor="end" font-weight="normal" font-style="normal">0</text>
<line x1="1198" y1="332.6" x2="1251.4" y2="332.6" stroke="#000" stroke-width="2.6"/>
<line x1="1289.6" y1="332.6" x2="1343.4" y2="332.6" stroke="#000" stroke-width="2.6"/>
<line x1="1381.6" y1="332.6" x2="1434.4" y2="332.6" stroke="#000" stroke-width="2.6"/>
<text x="1225.0" y="355" font-size="17.0" text-anchor="middle" font-weight="normal" font-style="normal">MCF-7</text>
<text x="1315.8" y="355" font-size="17.0" text-anchor="middle" font-weight="normal" font-style="normal">MCF-7/</text>
<text x="1315.7" y="377" font-size="17.0" text-anchor="middle" font-weight="normal" font-style="normal">PMA+TGF-β</text>
<text x="1407.7" y="355" font-size="17.0" text-anchor="middle" font-weight="normal" font-style="normal">MDA-MB-231</text>
<text x="1316.5" y="59" font-size="19.8" text-anchor="middle" font-weight="normal" font-style="normal">LSD1</text>
<text x="1108.7" y="237" font-size="17.0" text-anchor="middle" font-weight="normal" font-style="normal" transform="rotate(-90 1108.7 237)">TNFI</text>
<path d="M1228 89.6 V74 H1409 V89.6" fill="none" stroke="#000" stroke-width="2.6"/>
<text x="1316.6" y="78.4" font-size="17.5" text-anchor="middle" font-weight="normal" font-style="normal">****</text>
<path d="M1318 112.4 V97 H1409 V112.4" fill="none" stroke="#000" stroke-width="2.6"/>
<text x="1362.6" y="102.4" font-size="17.5" text-anchor="middle" font-weight="normal" font-style="normal">*</text>
<path d="M1228 138.6 V123.6 H1318.6 V138.6" fill="none" stroke="#000" stroke-width="2.6"/>
<text x="1270" y="127.8" font-size="17.5" text-anchor="middle" font-weight="normal" font-style="normal">****</text>
<line x1="1645.8" y1="315.7" x2="1645.8" y2="320.3" stroke="#000" stroke-width="1.8"/>
<line x1="1623.8" y1="315.7" x2="1667.8" y2="315.7" stroke="#000" stroke-width="1.8"/>
<rect x="1600.50" y="319.30" width="90.60" height="1.80" fill="#000"/>
<line x1="1736.25" y1="241.2" x2="1736.25" y2="251.5" stroke="#000" stroke-width="1.8"/>
<line x1="1714.25" y1="241.2" x2="1758.25" y2="241.2" stroke="#000" stroke-width="1.8"/>
<rect x="1692.60" y="252.00" width="87.30" height="68.80" fill="#fb0000" stroke="#000" stroke-width="3"/>
<line x1="1825.75" y1="154.3" x2="1825.75" y2="164.1" stroke="#000" stroke-width="1.8"/>
<line x1="1803.75" y1="154.3" x2="1847.75" y2="154.3" stroke="#000" stroke-width="1.8"/>
<rect x="1782.20" y="164.60" width="87.10" height="156.20" fill="#0000cd" stroke="#000" stroke-width="3"/>
<line x1="1578.4" y1="111.3" x2="1578.4" y2="322.25" stroke="#000" stroke-width="1.6"/>
<line x1="1572.2" y1="321.1" x2="1894.5" y2="321.1" stroke="#000" stroke-width="2.3"/>
<line x1="1572.2" y1="112.1" x2="1578.4" y2="112.1" stroke="#000" stroke-width="1.6"/>
<text x="1569.6000000000001" y="117.5" font-size="15" text-anchor="end" font-weight="normal" font-style="normal">0.5</text>
<line x1="1572.2" y1="153.9" x2="1578.4" y2="153.9" stroke="#000" stroke-width="1.6"/>
<text x="1569.6000000000001" y="159.3" font-size="15" text-anchor="end" font-weight="normal" font-style="normal">0.4</text>
<line x1="1572.2" y1="195.7" x2="1578.4" y2="195.7" stroke="#000" stroke-width="1.6"/>
<text x="1569.6000000000001" y="201.1" font-size="15" text-anchor="end" font-weight="normal" font-style="normal">0.3</text>
<line x1="1572.2" y1="237.5" x2="1578.4" y2="237.5" stroke="#000" stroke-width="1.6"/>
<text x="1569.6000000000001" y="242.9" font-size="15" text-anchor="end" font-weight="normal" font-style="normal">0.2</text>
<line x1="1572.2" y1="279.3" x2="1578.4" y2="279.3" stroke="#000" stroke-width="1.6"/>
<text x="1569.6000000000001" y="284.7" font-size="15" text-anchor="end" font-weight="normal" font-style="normal">0.1</text>
<text x="1569.6000000000001" y="326.5" font-size="15" text-anchor="end" font-weight="normal" font-style="normal">0.0</text>
<line x1="1617" y1="332.7" x2="1670" y2="332.7" stroke="#000" stroke-width="2.6"/>
<line x1="1707.7" y1="332.7" x2="1760.3" y2="332.7" stroke="#000" stroke-width="2.6"/>
<line x1="1799.4" y1="332.7" x2="1852.5" y2="332.7" stroke="#000" stroke-width="2.6"/>
<text x="1644.0" y="355.6" font-size="17.0" text-anchor="middle" font-weight="normal" font-style="normal">MCF-7</text>
<text x="1733.5" y="355.6" font-size="17.0" text-anchor="middle" font-weight="normal" font-style="normal">MCF-7/</text>
<text x="1733.4" y="377.4" font-size="17.0" text-anchor="middle" font-weight="normal" font-style="normal">PMA+TGF-β</text>
<text x="1825.6" y="355.6" font-size="17.0" text-anchor="middle" font-weight="normal" font-style="normal">MDA-MB-231</text>
<text x="1730" y="68.5" font-size="19.8" text-anchor="middle" font-weight="normal" font-style="normal">Snail vs LSD1</text>
<text x="1537.8" y="216.6" font-size="17.0" text-anchor="middle" font-weight="normal" font-style="normal" transform="rotate(-90 1537.8 216.6)">PCC</text>
<path d="M1645.3 122.7 V107.7 H1826.4 V122.7" fill="none" stroke="#000" stroke-width="2.6"/>
<text x="1735.3" y="111.1" font-size="17.5" text-anchor="middle" font-weight="normal" font-style="normal">****</text>
<path d="M1735.3 144.8 V130 H1826.4 V144.8" fill="none" stroke="#000" stroke-width="2.6"/>
<text x="1780" y="136.3" font-size="17.5" text-anchor="middle" font-weight="normal" font-style="normal">****</text>
<path d="M1645.3 231.4 V216.6 H1736.4 V231.4" fill="none" stroke="#000" stroke-width="2.6"/>
<text x="1682.7" y="221.6" font-size="17.5" text-anchor="middle" font-weight="normal" font-style="normal">****</text>
<line x1="141.95" y1="691.8" x2="141.95" y2="694.5" stroke="#000" stroke-width="2.4"/>
<line x1="132.45" y1="691.8" x2="151.45" y2="691.8" stroke="#000" stroke-width="2.4"/>
<rect x="122.20" y="693.50" width="39.50" height="42.10" fill="#000"/>
<line x1="181.0" y1="649" x2="181.0" y2="654.2" stroke="#000" stroke-width="2.4"/>
<line x1="171.5" y1="649" x2="190.5" y2="649" stroke="#000" stroke-width="2.4"/>
<rect x="162.75" y="654.55" width="36.50" height="80.75" fill="#fb0000" stroke="#000" stroke-width="2.7"/>
<line x1="240.39999999999998" y1="704.1" x2="240.39999999999998" y2="706.8" stroke="#000" stroke-width="2.4"/>
<line x1="230.89999999999998" y1="704.1" x2="249.89999999999998" y2="704.1" stroke="#000" stroke-width="2.4"/>
<rect x="219.90" y="705.80" width="41.00" height="29.80" fill="#000"/>
<line x1="279.15" y1="651.2" x2="279.15" y2="655.2" stroke="#000" stroke-width="2.4"/>
<line x1="269.65" y1="651.2" x2="288.65" y2="651.2" stroke="#000" stroke-width="2.4"/>
<rect x="261.15" y="655.55" width="36.00" height="79.75" fill="#fb0000" stroke="#000" stroke-width="2.7"/>
<line x1="338.6" y1="646.1" x2="338.6" y2="649.9" stroke="#000" stroke-width="2.4"/>
<line x1="329.1" y1="646.1" x2="348.1" y2="646.1" stroke="#000" stroke-width="2.4"/>
<rect x="318.20" y="648.90" width="40.80" height="86.70" fill="#000"/>
<line x1="377.05" y1="548.7" x2="377.05" y2="554.4" stroke="#000" stroke-width="2.4"/>
<line x1="367.55" y1="548.7" x2="386.55" y2="548.7" stroke="#000" stroke-width="2.4"/>
<rect x="358.85" y="554.75" width="36.40" height="180.55" fill="#fb0000" stroke="#000" stroke-width="2.7"/>
<line x1="102.6" y1="525.05" x2="102.6" y2="736.85" stroke="#000" stroke-width="1.9"/>
<line x1="96.1" y1="735.6" x2="417.5" y2="735.6" stroke="#000" stroke-width="2.5"/>
<line x1="96.1" y1="526" x2="102.6" y2="526" stroke="#000" stroke-width="1.9"/>
<text x="93.5" y="531.3" font-size="15" text-anchor="end" font-weight="normal" font-style="normal">1500</text>
<line x1="96.1" y1="595.9" x2="102.6" y2="595.9" stroke="#000" stroke-width="1.9"/>
<text x="93.5" y="601.2" font-size="15" text-anchor="end" font-weight="normal" font-style="normal">1000</text>
<line x1="96.1" y1="665.8" x2="102.6" y2="665.8" stroke="#000" stroke-width="1.9"/>
<text x="93.5" y="671.1" font-size="15" text-anchor="end" font-weight="normal" font-style="normal">500</text>
<text x="93.5" y="740.9" font-size="15" text-anchor="end" font-weight="normal" font-style="normal">0</text>
<line x1="128" y1="747.3" x2="181" y2="747.3" stroke="#000" stroke-width="2.6"/>
<line x1="233" y1="747.3" x2="286.4" y2="747.3" stroke="#000" stroke-width="2.6"/>
<line x1="337.5" y1="747.3" x2="391.5" y2="747.3" stroke="#000" stroke-width="2.6"/>
<text x="155.3" y="770" font-size="17.0" text-anchor="middle" font-weight="normal" font-style="normal">MCF-7</text>
<text x="259.0" y="770" font-size="17.0" text-anchor="middle" font-weight="normal" font-style="normal">MCF-7/</text>
<text x="258.5" y="792" font-size="17.0" text-anchor="middle" font-weight="normal" font-style="normal">PMA+TGF-β</text>
<text x="364.1" y="770" font-size="17.0" text-anchor="middle" font-weight="normal" font-style="normal">MDA-MB-231</text>
<text x="259.5" y="499.6" font-size="19.5" text-anchor="middle" font-weight="normal" font-style="normal">E-cadherin</text>
<text x="49.800000000000004" y="631.3" font-size="17.0" text-anchor="middle" font-weight="normal" font-style="normal" transform="rotate(-90 49.800000000000004 631.3)">TCFI</text>
<line x1="550.95" y1="613.1" x2="550.95" y2="620.3" stroke="#000" stroke-width="2.4"/>
<line x1="541.45" y1="613.1" x2="560.45" y2="613.1" stroke="#000" stroke-width="2.4"/>
<rect x="531.30" y="619.30" width="39.30" height="114.90" fill="#000"/>
<line x1="589.75" y1="633.3" x2="589.75" y2="639.6" stroke="#000" stroke-width="2.4"/>
<line x1="580.25" y1="633.3" x2="599.25" y2="633.3" stroke="#000" stroke-width="2.4"/>
<rect x="571.35" y="639.95" width="36.80" height="93.95" fill="#fb0000" stroke="#000" stroke-width="2.7"/>
<line x1="648.95" y1="561.4" x2="648.95" y2="571.2" stroke="#000" stroke-width="2.4"/>
<line x1="639.45" y1="561.4" x2="658.45" y2="561.4" stroke="#000" stroke-width="2.4"/>
<rect x="629.40" y="570.20" width="39.10" height="164.00" fill="#000"/>
<line x1="687.8" y1="645.6" x2="687.8" y2="650.3" stroke="#000" stroke-width="2.4"/>
<line x1="678.3" y1="645.6" x2="697.3" y2="645.6" stroke="#000" stroke-width="2.4"/>
<rect x="669.35" y="650.65" width="36.90" height="83.25" fill="#fb0000" stroke="#000" stroke-width="2.7"/>
<line x1="746.95" y1="553.5" x2="746.95" y2="560" stroke="#000" stroke-width="2.4"/>
<line x1="737.45" y1="553.5" x2="756.45" y2="553.5" stroke="#000" stroke-width="2.4"/>
<rect x="727.30" y="559.00" width="39.30" height="175.20" fill="#000"/>
<line x1="785.75" y1="646.7" x2="785.75" y2="652.8" stroke="#000" stroke-width="2.4"/>
<line x1="776.25" y1="646.7" x2="795.25" y2="646.7" stroke="#000" stroke-width="2.4"/>
<rect x="767.35" y="653.15" width="36.80" height="80.75" fill="#fb0000" stroke="#000" stroke-width="2.7"/>
<line x1="511.6" y1="523.25" x2="511.6" y2="735.45" stroke="#000" stroke-width="1.9"/>
<line x1="505.1" y1="734.2" x2="825.9" y2="734.2" stroke="#000" stroke-width="2.5"/>
<line x1="505.1" y1="524.2" x2="511.6" y2="524.2" stroke="#000" stroke-width="1.9"/>
<text x="502.5" y="529.0" font-size="15" text-anchor="end" font-weight="normal" font-style="normal">2000</text>
<line x1="505.1" y1="576.6" x2="511.6" y2="576.6" stroke="#000" stroke-width="1.9"/>
<text x="502.5" y="581.4" font-size="15" text-anchor="end" font-weight="normal" font-style="normal">1500</text>
<line x1="505.1" y1="629.1" x2="511.6" y2="629.1" stroke="#000" stroke-width="1.9"/>
<text x="502.5" y="633.9" font-size="15" text-anchor="end" font-weight="normal" font-style="normal">1000</text>
<line x1="505.1" y1="681.7" x2="511.6" y2="681.7" stroke="#000" stroke-width="1.9"/>
<text x="502.5" y="686.5" font-size="15" text-anchor="end" font-weight="normal" font-style="normal">500</text>
<text x="502.5" y="739.0" font-size="15" text-anchor="end" font-weight="normal" font-style="normal">0</text>
<line x1="537.2" y1="745.6" x2="590.4" y2="745.6" stroke="#000" stroke-width="2.6"/>
<line x1="642.2" y1="745.6" x2="695.4" y2="745.6" stroke="#000" stroke-width="2.6"/>
<line x1="747.3" y1="745.6" x2="800.6" y2="745.6" stroke="#000" stroke-width="2.6"/>
<text x="564.1" y="768.2" font-size="17.0" text-anchor="middle" font-weight="normal" font-style="normal">MCF-7</text>
<text x="667.8" y="768.2" font-size="17.0" text-anchor="middle" font-weight="normal" font-style="normal">MCF-7/</text>
<text x="667.9" y="790.3" font-size="17.0" text-anchor="middle" font-weight="normal" font-style="normal">PMA+TGF-β</text>
<text x="773.7" y="768.2" font-size="17.0" text-anchor="middle" font-weight="normal" font-style="normal">MDA-MB-231</text>
<text x="668.6" y="499.4" font-size="19.3" text-anchor="middle" font-weight="normal" font-style="normal">Snail</text>
<text x="459.8" y="629.3" font-size="17.0" text-anchor="middle" font-weight="normal" font-style="normal" transform="rotate(-90 459.8 629.3)">TNFI</text>
<line x1="967.7" y1="702.8" x2="967.7" y2="705.2" stroke="#000" stroke-width="2.4"/>
<line x1="958.2" y1="702.8" x2="977.2" y2="702.8" stroke="#000" stroke-width="2.4"/>
<rect x="948.10" y="704.20" width="39.20" height="30.80" fill="#000"/>
<line x1="1006.45" y1="715.6" x2="1006.45" y2="717.3" stroke="#000" stroke-width="2.4"/>
<line x1="996.95" y1="715.6" x2="1015.95" y2="715.6" stroke="#000" stroke-width="2.4"/>
<rect x="988.05" y="717.65" width="36.80" height="17.05" fill="#fb0000" stroke="#000" stroke-width="2.7"/>
<line x1="1065.75" y1="638.1" x2="1065.75" y2="642.8" stroke="#000" stroke-width="2.4"/>
<line x1="1056.25" y1="638.1" x2="1075.25" y2="638.1" stroke="#000" stroke-width="2.4"/>
<rect x="1046.00" y="641.80" width="39.50" height="93.20" fill="#000"/>
<line x1="1104.65" y1="676.9" x2="1104.65" y2="681.3" stroke="#000" stroke-width="2.4"/>
<line x1="1095.15" y1="676.9" x2="1114.15" y2="676.9" stroke="#000" stroke-width="2.4"/>
<rect x="1086.25" y="681.65" width="36.80" height="53.05" fill="#fb0000" stroke="#000" stroke-width="2.7"/>
<line x1="1164.4" y1="557.6" x2="1164.4" y2="565.8" stroke="#000" stroke-width="2.4"/>
<line x1="1154.9" y1="557.6" x2="1173.9" y2="557.6" stroke="#000" stroke-width="2.4"/>
<rect x="1144.50" y="564.80" width="39.80" height="170.20" fill="#000"/>
<line x1="1203.2" y1="639.1" x2="1203.2" y2="644.2" stroke="#000" stroke-width="2.4"/>
<line x1="1193.7" y1="639.1" x2="1212.7" y2="639.1" stroke="#000" stroke-width="2.4"/>
<rect x="1185.05" y="644.55" width="36.30" height="90.15" fill="#fb0000" stroke="#000" stroke-width="2.7"/>
<line x1="928.1" y1="524.25" x2="928.1" y2="736.25" stroke="#000" stroke-width="1.9"/>
<line x1="921.6" y1="735" x2="1243.6" y2="735" stroke="#000" stroke-width="2.5"/>
<line x1="921.6" y1="525.2" x2="928.1" y2="525.2" stroke="#000" stroke-width="1.9"/>
<text x="919.0" y="530.5" font-size="15" text-anchor="end" font-weight="normal" font-style="normal">2000</text>
<line x1="921.6" y1="577.7" x2="928.1" y2="577.7" stroke="#000" stroke-width="1.9"/>
<text x="919.0" y="583.0" font-size="15" text-anchor="end" font-weight="normal" font-style="normal">1500</text>
<line x1="921.6" y1="630.1" x2="928.1" y2="630.1" stroke="#000" stroke-width="1.9"/>
<text x="919.0" y="635.4" font-size="15" text-anchor="end" font-weight="normal" font-style="normal">1000</text>
<line x1="921.6" y1="682.6" x2="928.1" y2="682.6" stroke="#000" stroke-width="1.9"/>
<text x="919.0" y="687.9" font-size="15" text-anchor="end" font-weight="normal" font-style="normal">500</text>
<text x="919.0" y="740.3" font-size="15" text-anchor="end" font-weight="normal" font-style="normal">0</text>
<line x1="953.9" y1="746.2" x2="1007.4" y2="746.2" stroke="#000" stroke-width="2.6"/>
<line x1="1059" y1="746.2" x2="1112.2" y2="746.2" stroke="#000" stroke-width="2.6"/>
<line x1="1164" y1="746.2" x2="1217.3" y2="746.2" stroke="#000" stroke-width="2.6"/>
<text x="981.3" y="769.5" font-size="17.0" text-anchor="middle" font-weight="normal" font-style="normal">MCF-7</text>
<text x="1085.1" y="769.5" font-size="17.0" text-anchor="middle" font-weight="normal" font-style="normal">MCF-7/</text>
<text x="1084.7" y="790.9" font-size="17.0" text-anchor="middle" font-weight="normal" font-style="normal">PMA+TGF-β</text>
<text x="1191.6" y="769.5" font-size="17.0" text-anchor="middle" font-weight="normal" font-style="normal">MDA-MB-231</text>
<text x="1086" y="499" font-size="19.5" text-anchor="middle" font-weight="normal" font-style="normal">Vimentin</text>
<text x="875.8000000000001" y="630" font-size="17.0" text-anchor="middle" font-weight="normal" font-style="normal" transform="rotate(-90 875.8000000000001 630)">TCFI</text>
<rect x="1291.1" y="534.2" width="22.8" height="11" fill="#000"/>
<rect x="1292.6" y="563.7" width="19.8" height="8" fill="#fb0000" stroke="#000" stroke-width="3"/>
<text x="1325.4" y="544.7" font-size="17.0" text-anchor="start" font-weight="normal" font-style="normal">Mock siRNA</text>
<text x="1325.4" y="572.7" font-size="17.0" text-anchor="start" font-weight="normal" font-style="normal">LSD1 siRNA</text>
<line x1="1643.25" y1="589.3" x2="1643.25" y2="594.5" stroke="#000" stroke-width="2.0"/>
<line x1="1621.25" y1="589.3" x2="1665.25" y2="589.3" stroke="#000" stroke-width="2.0"/>
<rect x="1598.00" y="593.50" width="90.50" height="139.30" fill="#000"/>
<line x1="1732.7" y1="583.8" x2="1732.7" y2="605.4" stroke="#000" stroke-width="2.0"/>
<line x1="1710.7" y1="583.8" x2="1754.7" y2="583.8" stroke="#000" stroke-width="2.0"/>
<rect x="1689.50" y="605.90" width="86.40" height="126.60" fill="#fb0000" stroke="#000" stroke-width="3"/>
<line x1="1822.05" y1="637.8" x2="1822.05" y2="654.6" stroke="#000" stroke-width="2.0"/>
<line x1="1800.05" y1="637.8" x2="1844.05" y2="637.8" stroke="#000" stroke-width="2.0"/>
<rect x="1778.10" y="655.10" width="87.90" height="77.40" fill="#0000cd" stroke="#000" stroke-width="3"/>
<line x1="1575.3" y1="521.8499999999999" x2="1575.3" y2="734.05" stroke="#000" stroke-width="1.9"/>
<line x1="1568.8" y1="732.8" x2="1890.7" y2="732.8" stroke="#000" stroke-width="2.5"/>
<line x1="1568.8" y1="522.8" x2="1575.3" y2="522.8" stroke="#000" stroke-width="1.9"/>
<text x="1566.2" y="528.1" font-size="15" text-anchor="end" font-weight="normal" font-style="normal">150</text>
<line x1="1568.8" y1="592.8" x2="1575.3" y2="592.8" stroke="#000" stroke-width="1.9"/>
<text x="1566.2" y="598.1" font-size="15" text-anchor="end" font-weight="normal" font-style="normal">100</text>
<line x1="1568.8" y1="662.8" x2="1575.3" y2="662.8" stroke="#000" stroke-width="1.9"/>
<text x="1566.2" y="668.1" font-size="15" text-anchor="end" font-weight="normal" font-style="normal">50</text>
<text x="1566.2" y="738.1" font-size="15" text-anchor="end" font-weight="normal" font-style="normal">0</text>
<line x1="1615.4" y1="743" x2="1668.3" y2="743" stroke="#000" stroke-width="2.6"/>
<line x1="1703.5" y1="743" x2="1756.9" y2="743" stroke="#000" stroke-width="2.6"/>
<line x1="1794" y1="743" x2="1847.8" y2="743" stroke="#000" stroke-width="2.6"/>
<text x="1641.4" y="765.3" font-size="17.0" text-anchor="middle" font-weight="normal" font-style="normal">MCF-7</text>
<text x="1730.2" y="765.3" font-size="17.0" text-anchor="middle" font-weight="normal" font-style="normal">MCF-7/</text>
<text x="1729.6" y="787.3" font-size="17.0" text-anchor="middle" font-weight="normal" font-style="normal">PMA+TGF-β</text>
<text x="1821.0" y="765.3" font-size="17.0" text-anchor="middle" font-weight="normal" font-style="normal">MDA-MB-231</text>
<text x="1732.5" y="498.9" font-size="20.0" text-anchor="middle" font-weight="normal" font-style="normal">LSD1 H3K4 Demethylase Activity</text>
<text x="1510.7" y="627.8" font-size="17.0" text-anchor="middle" font-weight="normal" font-style="normal" transform="rotate(-90 1510.7 627.8)">LSD1 Activity</text>
<text x="1532.7" y="627.8" font-size="17.0" text-anchor="middle" font-weight="normal" font-style="normal" transform="rotate(-90 1532.7 627.8)">(Relative to MCF-7)</text>
<line x1="142.75" y1="1011.2" x2="142.75" y2="1016.9" stroke="#000" stroke-width="2.4"/>
<line x1="133.25" y1="1011.2" x2="152.25" y2="1011.2" stroke="#000" stroke-width="2.4"/>
<rect x="122.90" y="1015.90" width="39.70" height="109.20" fill="#000"/>
<line x1="181.55" y1="996.4" x2="181.55" y2="1003" stroke="#000" stroke-width="2.4"/>
<line x1="172.05" y1="996.4" x2="191.05" y2="996.4" stroke="#000" stroke-width="2.4"/>
<rect x="163.35" y="1003.35" width="36.40" height="121.45" fill="#fb0000" stroke="#000" stroke-width="2.7"/>
<line x1="241.0" y1="1053" x2="241.0" y2="1056.3" stroke="#000" stroke-width="2.4"/>
<line x1="231.5" y1="1053" x2="250.5" y2="1053" stroke="#000" stroke-width="2.4"/>
<rect x="220.80" y="1055.30" width="40.40" height="69.80" fill="#000"/>
<line x1="279.9" y1="1024.9" x2="279.9" y2="1029.2" stroke="#000" stroke-width="2.4"/>
<line x1="270.4" y1="1024.9" x2="289.4" y2="1024.9" stroke="#000" stroke-width="2.4"/>
<rect x="261.95" y="1029.55" width="35.90" height="95.25" fill="#fb0000" stroke="#000" stroke-width="2.7"/>
<line x1="339.35" y1="1053" x2="339.35" y2="1058.2" stroke="#000" stroke-width="2.4"/>
<line x1="329.85" y1="1053" x2="348.85" y2="1053" stroke="#000" stroke-width="2.4"/>
<rect x="318.90" y="1057.20" width="40.90" height="67.90" fill="#000"/>
<line x1="378.5" y1="967.4" x2="378.5" y2="972.6" stroke="#000" stroke-width="2.4"/>
<line x1="369.0" y1="967.4" x2="388.0" y2="967.4" stroke="#000" stroke-width="2.4"/>
<rect x="360.55" y="972.95" width="35.90" height="151.85" fill="#fb0000" stroke="#000" stroke-width="2.7"/>
<line x1="103" y1="914.9499999999999" x2="103" y2="1126.35" stroke="#000" stroke-width="1.9"/>
<line x1="96.5" y1="1125.1" x2="418.7" y2="1125.1" stroke="#000" stroke-width="2.5"/>
<line x1="96.5" y1="915.9" x2="103" y2="915.9" stroke="#000" stroke-width="1.9"/>
<text x="93.9" y="921.2" font-size="15" text-anchor="end" font-weight="normal" font-style="normal">1500</text>
<line x1="96.5" y1="985.6" x2="103" y2="985.6" stroke="#000" stroke-width="1.9"/>
<text x="93.9" y="990.9" font-size="15" text-anchor="end" font-weight="normal" font-style="normal">1000</text>
<line x1="96.5" y1="1055.4" x2="103" y2="1055.4" stroke="#000" stroke-width="1.9"/>
<text x="93.9" y="1060.7" font-size="15" text-anchor="end" font-weight="normal" font-style="normal">500</text>
<text x="93.9" y="1130.4" font-size="15" text-anchor="end" font-weight="normal" font-style="normal">0</text>
<line x1="129" y1="1136.6" x2="181.9" y2="1136.6" stroke="#000" stroke-width="3"/>
<line x1="234.1" y1="1136.6" x2="287" y2="1136.6" stroke="#000" stroke-width="3"/>
<line x1="339.5" y1="1136.6" x2="392.4" y2="1136.6" stroke="#000" stroke-width="3"/>
<text x="156.1" y="1158.8" font-size="17.0" text-anchor="middle" font-weight="normal" font-style="normal">MCF-7</text>
<text x="260.2" y="1158.8" font-size="17.0" text-anchor="middle" font-weight="normal" font-style="normal">MCF-7/</text>
<text x="260.2" y="1180.7" font-size="17.0" text-anchor="middle" font-weight="normal" font-style="normal">PMA+TGF-β</text>
<text x="365.2" y="1158.8" font-size="17.0" text-anchor="middle" font-weight="normal" font-style="normal">MDA-MB-231</text>
<text x="260" y="889" font-size="20.0" text-anchor="middle" font-weight="normal" font-style="normal">E-cadherin</text>
<text x="49.800000000000004" y="1020.9" font-size="17.0" text-anchor="middle" font-weight="normal" font-style="normal" transform="rotate(-90 49.800000000000004 1020.9)">TCFI</text>
<line x1="550.95" y1="1063.9" x2="550.95" y2="1067" stroke="#000" stroke-width="2.4"/>
<line x1="541.45" y1="1063.9" x2="560.45" y2="1063.9" stroke="#000" stroke-width="2.4"/>
<rect x="531.30" y="1066.00" width="39.30" height="58.90" fill="#000"/>
<line x1="589.75" y1="1088.5" x2="589.75" y2="1090.6" stroke="#000" stroke-width="2.4"/>
<line x1="580.25" y1="1088.5" x2="599.25" y2="1088.5" stroke="#000" stroke-width="2.4"/>
<rect x="571.35" y="1090.95" width="36.80" height="33.65" fill="#fb0000" stroke="#000" stroke-width="2.7"/>
<line x1="648.95" y1="937.9" x2="648.95" y2="945.2" stroke="#000" stroke-width="2.4"/>
<line x1="639.45" y1="937.9" x2="658.45" y2="937.9" stroke="#000" stroke-width="2.4"/>
<rect x="629.40" y="944.20" width="39.10" height="180.70" fill="#000"/>
<line x1="687.8" y1="1071.8" x2="687.8" y2="1075.5" stroke="#000" stroke-width="2.4"/>
<line x1="678.3" y1="1071.8" x2="697.3" y2="1071.8" stroke="#000" stroke-width="2.4"/>
<rect x="669.35" y="1075.85" width="36.90" height="48.75" fill="#fb0000" stroke="#000" stroke-width="2.7"/>
<line x1="746.95" y1="1037.7" x2="746.95" y2="1041.5" stroke="#000" stroke-width="2.4"/>
<line x1="737.45" y1="1037.7" x2="756.45" y2="1037.7" stroke="#000" stroke-width="2.4"/>
<rect x="727.30" y="1040.50" width="39.30" height="84.40" fill="#000"/>
<line x1="785.75" y1="1086.1" x2="785.75" y2="1088.3" stroke="#000" stroke-width="2.4"/>
<line x1="776.25" y1="1086.1" x2="795.25" y2="1086.1" stroke="#000" stroke-width="2.4"/>
<rect x="767.35" y="1088.65" width="36.80" height="35.95" fill="#fb0000" stroke="#000" stroke-width="2.7"/>
<line x1="511.4" y1="914.9499999999999" x2="511.4" y2="1126.15" stroke="#000" stroke-width="1.9"/>
<line x1="504.9" y1="1124.9" x2="825.9" y2="1124.9" stroke="#000" stroke-width="2.5"/>
<line x1="504.9" y1="915.9" x2="511.4" y2="915.9" stroke="#000" stroke-width="1.9"/>
<text x="502.29999999999995" y="921.2" font-size="15" text-anchor="end" font-weight="normal" font-style="normal">2500</text>
<line x1="504.9" y1="957.7" x2="511.4" y2="957.7" stroke="#000" stroke-width="1.9"/>
<text x="502.29999999999995" y="963.0" font-size="15" text-anchor="end" font-weight="normal" font-style="normal">2000</text>
<line x1="504.9" y1="999.5" x2="511.4" y2="999.5" stroke="#000" stroke-width="1.9"/>
<text x="502.29999999999995" y="1004.8" font-size="15" text-anchor="end" font-weight="normal" font-style="normal">1500</text>
<line x1="504.9" y1="1041.3" x2="511.4" y2="1041.3" stroke="#000" stroke-width="1.9"/>
<text x="502.29999999999995" y="1046.6" font-size="15" text-anchor="end" font-weight="normal" font-style="normal">1000</text>
<line x1="504.9" y1="1083.1" x2="511.4" y2="1083.1" stroke="#000" stroke-width="1.9"/>
<text x="502.29999999999995" y="1088.4" font-size="15" text-anchor="end" font-weight="normal" font-style="normal">500</text>
<text x="502.29999999999995" y="1130.2" font-size="15" text-anchor="end" font-weight="normal" font-style="normal">0</text>
<line x1="537.2" y1="1135.9" x2="590.4" y2="1135.9" stroke="#000" stroke-width="2.6"/>
<line x1="642.2" y1="1135.9" x2="695.4" y2="1135.9" stroke="#000" stroke-width="2.6"/>
<line x1="747.3" y1="1135.9" x2="800.6" y2="1135.9" stroke="#000" stroke-width="2.6"/>
<text x="564.1" y="1158.4" font-size="17.0" text-anchor="middle" font-weight="normal" font-style="normal">MCF-7</text>
<text x="667.8" y="1158.4" font-size="17.0" text-anchor="middle" font-weight="normal" font-style="normal">MCF-7/</text>
<text x="667.9" y="1180.8" font-size="17.0" text-anchor="middle" font-weight="normal" font-style="normal">PMA+TGF-β</text>
<text x="773.7" y="1158.4" font-size="17.0" text-anchor="middle" font-weight="normal" font-style="normal">MDA-MB-231</text>
<text x="668.6" y="889" font-size="19.8" text-anchor="middle" font-weight="normal" font-style="normal">Snail</text>
<text x="459.8" y="1021" font-size="17.0" text-anchor="middle" font-weight="normal" font-style="normal" transform="rotate(-90 459.8 1021)">TNFI</text>
<line x1="975.3499999999999" y1="1076.2" x2="975.3499999999999" y2="1079" stroke="#000" stroke-width="2.4"/>
<line x1="965.8499999999999" y1="1076.2" x2="984.8499999999999" y2="1076.2" stroke="#000" stroke-width="2.4"/>
<rect x="954.30" y="1078.00" width="42.10" height="45.30" fill="#000"/>
<line x1="1013.8" y1="1075.7" x2="1013.8" y2="1080.2" stroke="#000" stroke-width="2.4"/>
<line x1="1004.3" y1="1075.7" x2="1023.3" y2="1075.7" stroke="#000" stroke-width="2.4"/>
<rect x="997.15" y="1080.55" width="33.30" height="42.45" fill="#fb0000" stroke="#000" stroke-width="2.7"/>
<line x1="1072.8000000000002" y1="1028.2" x2="1072.8000000000002" y2="1032.6" stroke="#000" stroke-width="2.4"/>
<line x1="1063.3000000000002" y1="1028.2" x2="1082.3000000000002" y2="1028.2" stroke="#000" stroke-width="2.4"/>
<rect x="1052.90" y="1031.60" width="39.80" height="91.70" fill="#000"/>
<line x1="1111.1" y1="1073.4" x2="1111.1" y2="1078.3" stroke="#000" stroke-width="2.4"/>
<line x1="1101.6" y1="1073.4" x2="1120.6" y2="1073.4" stroke="#000" stroke-width="2.4"/>
<rect x="1093.45" y="1078.65" width="35.30" height="44.35" fill="#fb0000" stroke="#000" stroke-width="2.7"/>
<line x1="1170.9" y1="944" x2="1170.9" y2="950.3" stroke="#000" stroke-width="2.4"/>
<line x1="1161.4" y1="944" x2="1180.4" y2="944" stroke="#000" stroke-width="2.4"/>
<rect x="1151.30" y="949.30" width="39.20" height="174.00" fill="#000"/>
<line x1="1209.25" y1="1061.3" x2="1209.25" y2="1081.8" stroke="#000" stroke-width="2.4"/>
<line x1="1199.75" y1="1061.3" x2="1218.75" y2="1061.3" stroke="#000" stroke-width="2.4"/>
<rect x="1191.25" y="1082.15" width="36.00" height="40.85" fill="#fb0000" stroke="#000" stroke-width="2.7"/>
<line x1="934.6" y1="912.8499999999999" x2="934.6" y2="1124.55" stroke="#000" stroke-width="1.9"/>
<line x1="928.1" y1="1123.3" x2="1250.5" y2="1123.3" stroke="#000" stroke-width="2.5"/>
<line x1="928.1" y1="913.8" x2="934.6" y2="913.8" stroke="#000" stroke-width="1.9"/>
<text x="925.5" y="919.1" font-size="15" text-anchor="end" font-weight="normal" font-style="normal">2500</text>
<line x1="928.1" y1="955.7" x2="934.6" y2="955.7" stroke="#000" stroke-width="1.9"/>
<text x="925.5" y="961.0" font-size="15" text-anchor="end" font-weight="normal" font-style="normal">2000</text>
<line x1="928.1" y1="997.6" x2="934.6" y2="997.6" stroke="#000" stroke-width="1.9"/>
<text x="925.5" y="1002.9" font-size="15" text-anchor="end" font-weight="normal" font-style="normal">1500</text>
<line x1="928.1" y1="1039.5" x2="934.6" y2="1039.5" stroke="#000" stroke-width="1.9"/>
<text x="925.5" y="1044.8" font-size="15" text-anchor="end" font-weight="normal" font-style="normal">1000</text>
<line x1="928.1" y1="1081.4" x2="934.6" y2="1081.4" stroke="#000" stroke-width="1.9"/>
<text x="925.5" y="1086.7" font-size="15" text-anchor="end" font-weight="normal" font-style="normal">500</text>
<text x="925.5" y="1128.6" font-size="15" text-anchor="end" font-weight="normal" font-style="normal">0</text>
<line x1="960.4" y1="1134.3" x2="1014" y2="1134.3" stroke="#000" stroke-width="2.6"/>
<line x1="1065.4" y1="1134.3" x2="1118.4" y2="1134.3" stroke="#000" stroke-width="2.6"/>
<line x1="1170.3" y1="1134.3" x2="1223.2" y2="1134.3" stroke="#000" stroke-width="2.6"/>
<text x="987.8" y="1157.3" font-size="17.0" text-anchor="middle" font-weight="normal" font-style="normal">MCF-7</text>
<text x="1091.6" y="1157.3" font-size="17.0" text-anchor="middle" font-weight="normal" font-style="normal">MCF-7/</text>
<text x="1091.4" y="1179.3" font-size="17.0" text-anchor="middle" font-weight="normal" font-style="normal">PMA+TGF-β</text>
<text x="1197.2" y="1157.3" font-size="17.0" text-anchor="middle" font-weight="normal" font-style="normal">MDA-MB-231</text>
<text x="1092.6" y="889" font-size="19.8" text-anchor="middle" font-weight="normal" font-style="normal">Vimentin</text>
<text x="875.8000000000001" y="1018.5" font-size="17.0" text-anchor="middle" font-weight="normal" font-style="normal" transform="rotate(-90 875.8000000000001 1018.5)">TCFI</text>
<rect x="1297.1" y="922.1" width="22.9" height="11.2" fill="#000"/>
<rect x="1298.6" y="952.6" width="19.9" height="8.2" fill="#fb0000" stroke="#000" stroke-width="3"/>
<text x="1331.7" y="933.0" font-size="17.0" text-anchor="start" font-weight="normal" font-style="normal">Control</text>
<text x="1331.7" y="961.2" font-size="17.0" text-anchor="start" font-weight="normal" font-style="normal">Pargyline</text>
</svg>
</body></html>
